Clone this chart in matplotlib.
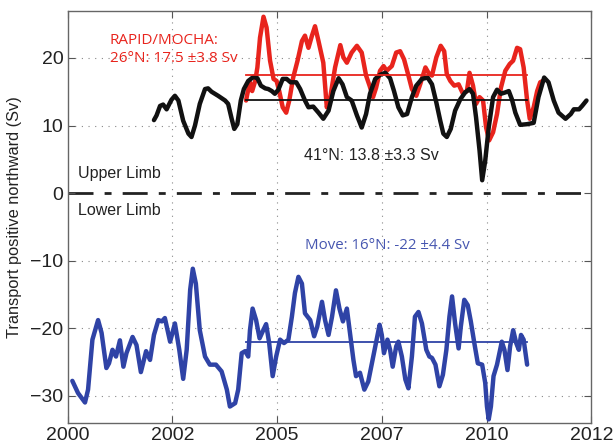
import matplotlib
matplotlib.use("Agg")
import matplotlib.pyplot as plt
import numpy as np

# 16N MOVE (lower limb)
blue_t = [2000.11, 2000.24, 2000.40, 2000.47, 2000.57, 2000.70, 2000.78, 2000.89, 2000.95, 2001.03,
          2001.11, 2001.20, 2001.28, 2001.35, 2001.49, 2001.58, 2001.68, 2001.80, 2001.89, 2001.98,
          2002.08, 2002.16, 2002.23, 2002.35, 2002.46, 2002.56, 2002.65, 2002.73, 2002.81, 2002.87,
          2002.94, 2003.03, 2003.15, 2003.26, 2003.40, 2003.53, 2003.65, 2003.72, 2003.84, 2003.91,
          2003.99, 2004.07, 2004.14, 2004.18, 2004.24, 2004.32, 2004.40, 2004.47, 2004.55, 2004.62,
          2004.70, 2004.78, 2004.87, 2004.96, 2005.06, 2005.14, 2005.21, 2005.29, 2005.37, 2005.44,
          2005.56, 2005.65, 2005.72, 2005.83, 2005.90, 2005.98, 2006.06, 2006.15, 2006.23, 2006.31,
          2006.40, 2006.47, 2006.55, 2006.61, 2006.70, 2006.80, 2006.89, 2006.99, 2007.09, 2007.15,
          2007.20, 2007.25, 2007.33, 2007.39, 2007.45, 2007.53, 2007.58, 2007.66, 2007.74, 2007.81,
          2007.89, 2007.96, 2008.04, 2008.12, 2008.22, 2008.29, 2008.35, 2008.43, 2008.52, 2008.60,
          2008.68, 2008.75, 2008.81, 2008.88, 2008.96, 2009.01, 2009.09, 2009.17, 2009.24, 2009.32,
          2009.40, 2009.50, 2009.57, 2009.61, 2009.65, 2009.70, 2009.76, 2009.84, 2009.95, 2010.01,
          2010.08, 2010.14, 2010.21, 2010.28, 2010.34, 2010.39, 2010.45, 2010.53]
blue_v = [-27.8, -29.6, -31.0, -29.1, -21.7, -18.8, -20.7, -25.9, -25.2, -23.2,
          -24.2, -21.8, -25.7, -23.7, -21.3, -22.5, -26.5, -23.4, -24.7, -21.0,
          -18.8, -19.0, -18.5, -22.0, -19.3, -23.2, -27.5, -23.2, -14.3, -11.2,
          -13.4, -20.3, -24.2, -25.4, -25.4, -26.4, -29.1, -31.6, -31.1, -29.1,
          -23.7, -23.4, -24.2, -20.3, -17.1, -18.8, -21.5, -20.5, -19.4, -22.2,
          -27.1, -24.2, -21.7, -22.2, -21.7, -18.3, -14.8, -12.4, -13.4, -17.8,
          -18.8, -21.2, -19.8, -16.1, -18.8, -21.0, -18.3, -14.4, -17.1, -19.0,
          -17.1, -20.7, -24.7, -27.1, -26.6, -29.1, -27.9, -24.7, -21.5, -19.5,
          -21.0, -23.7, -21.7, -23.2, -25.7, -22.7, -22.0, -24.2, -27.6, -28.9,
          -24.2, -18.3, -17.6, -19.3, -23.2, -24.2, -24.4, -25.4, -28.6, -26.9,
          -23.2, -18.3, -15.3, -19.3, -23.0, -19.8, -15.8, -16.6, -19.0, -22.2,
          -25.2, -25.4, -28.1, -31.6, -33.5, -31.6, -27.1, -25.4, -22.0, -23.2,
          -26.2, -22.7, -20.3, -22.2, -23.2, -21.0, -21.7, -25.4]

# 26N RAPID/MOCHA (upper limb)
red_t = [2004.09, 2004.12, 2004.18, 2004.23, 2004.30, 2004.35, 2004.41, 2004.49, 2004.56, 2004.64,
         2004.72, 2004.79, 2004.85, 2004.93, 2005.01, 2005.08, 2005.17, 2005.27, 2005.37, 2005.44,
         2005.52, 2005.60, 2005.67, 2005.75, 2005.86, 2005.94, 2006.02, 2006.13, 2006.25, 2006.32,
         2006.40, 2006.51, 2006.63, 2006.74, 2006.84, 2006.92, 2007.00, 2007.07, 2007.16, 2007.24,
         2007.31, 2007.43, 2007.53, 2007.62, 2007.71, 2007.81, 2007.89, 2007.99, 2008.08, 2008.20,
         2008.27, 2008.35, 2008.45, 2008.55, 2008.63, 2008.69, 2008.77, 2008.86, 2008.96, 2009.06,
         2009.15, 2009.21, 2009.29, 2009.36, 2009.44, 2009.52, 2009.59, 2009.66, 2009.75, 2009.84,
         2009.93, 2010.03, 2010.13, 2010.21, 2010.30, 2010.37, 2010.45, 2010.53, 2010.59, 2010.68,
         2010.76, 2010.83, 2010.89]
red_v = [13.7, 14.7, 16.4, 15.1, 16.6, 18.6, 23.0, 26.1, 24.5, 19.6,
         16.9, 16.6, 15.1, 12.7, 11.9, 13.7, 17.1, 19.6, 22.5, 23.3,
         21.5, 23.3, 24.7, 22.5, 19.3, 12.7, 14.2, 18.6, 21.9, 20.1,
         19.3, 20.8, 21.8, 20.8, 17.4, 15.9, 14.2, 15.6, 18.1, 18.8,
         18.1, 18.8, 20.8, 21.0, 19.8, 17.4, 15.4, 14.4, 16.1, 18.6,
         17.8, 17.4, 20.1, 21.8, 21.0, 17.6, 16.6, 15.9, 16.1, 14.7,
         15.1, 17.8, 15.9, 13.2, 14.2, 13.7, 9.7, 7.8, 9.0, 11.7,
         15.6, 18.1, 19.1, 19.6, 21.5, 21.3, 18.6, 13.7, 11.0, 12.7,
         15.1, 16.4, 16.6]

# 41N (upper limb)
black_t = [2001.98, 2002.04, 2002.12, 2002.19, 2002.27, 2002.38, 2002.46, 2002.54, 2002.65, 2002.77,
           2002.84, 2002.92, 2003.03, 2003.15, 2003.22, 2003.30, 2003.45, 2003.61, 2003.68, 2003.76,
           2003.82, 2003.89, 2003.97, 2004.04, 2004.14, 2004.26, 2004.35, 2004.43, 2004.53, 2004.60,
           2004.68, 2004.75, 2004.83, 2004.93, 2005.02, 2005.11, 2005.24, 2005.33, 2005.44, 2005.52,
           2005.63, 2005.75, 2005.86, 2005.98, 2006.09, 2006.21, 2006.30, 2006.40, 2006.51, 2006.63,
           2006.74, 2006.84, 2006.93, 2007.05, 2007.16, 2007.28, 2007.39, 2007.48, 2007.58, 2007.68,
           2007.78, 2007.89, 2007.99, 2008.12, 2008.25, 2008.35, 2008.45, 2008.54, 2008.61, 2008.69,
           2008.78, 2008.88, 2009.00, 2009.11, 2009.21, 2009.29, 2009.36, 2009.44, 2009.50, 2009.57,
           2009.65, 2009.75, 2009.84, 2009.93, 2010.03, 2010.11, 2010.18, 2010.26, 2010.37, 2010.53,
           2010.68, 2010.79, 2010.92, 2011.02, 2011.14, 2011.25, 2011.41, 2011.53, 2011.60, 2011.72,
           2011.79, 2011.89]
black_v = [10.8, 11.5, 12.9, 13.1, 12.4, 13.8, 14.4, 13.7, 10.7, 8.8,
           8.3, 10.0, 13.2, 15.4, 15.5, 15.0, 14.4, 13.7, 13.2, 11.0,
           9.5, 10.2, 13.7, 15.4, 16.6, 17.2, 17.0, 15.9, 15.5, 15.4,
           15.1, 14.7, 15.3, 16.9, 16.9, 16.4, 16.4, 15.4, 13.7, 12.7,
           12.8, 11.9, 11.0, 12.2, 15.1, 17.0, 16.1, 14.2, 13.7, 11.5,
           9.7, 11.7, 14.7, 16.9, 17.5, 17.8, 17.0, 15.1, 12.7, 11.5,
           11.7, 14.2, 15.9, 16.9, 17.1, 16.1, 13.4, 10.7, 8.8, 8.3,
           9.5, 12.2, 13.9, 14.9, 15.4, 14.7, 11.2, 6.3, 1.9, 4.8,
           9.7, 14.2, 15.3, 14.7, 14.9, 15.1, 13.9, 11.9, 10.1, 10.2,
           10.4, 14.2, 17.1, 16.4, 13.7, 11.9, 11.0, 11.7, 12.4, 12.4,
           12.9, 13.7]

# means over the common period
mean_span = [2004.09, 2010.52]
red_mean, black_mean, blue_mean = 17.5, 13.8, -22.0

xtick_labels = ["2000", "2002", "2005", "2007", "2010", "2012"]
yticks = [-30, -20, -10, 0, 10, 20]

RED = "#e8241d"
BLUE = "#2f43a6"

fig = plt.figure(figsize=(6.14, 4.45), dpi=100)
ax = fig.add_axes([0.110, 0.050, 0.853, 0.926])

grid_kw = dict(color="#888888", lw=0.8, linestyle=(0, (1, 5)), zorder=0)
for yt in yticks:
    if yt != 0:
        ax.axhline(yt, **grid_kw)
for xt in np.linspace(2000, 2012, 6)[1:-1]:
    ax.axvline(xt, **grid_kw)

ax.axhline(0, color="#222222", lw=2.0, linestyle=(0, (9, 4, 2.5, 4)), zorder=1)

line_kw = dict(lw=3.2, solid_joinstyle="round", solid_capstyle="round")
ax.plot(red_t, red_v, color=RED, zorder=2, **line_kw)
ax.plot(black_t, black_v, color="#111111", zorder=3, **line_kw)
ax.plot(blue_t, blue_v, color=BLUE, zorder=3, **line_kw)

ax.plot(mean_span, [red_mean] * 2, color=RED, lw=1.3, zorder=4)
ax.plot(mean_span, [black_mean] * 2, color="#111111", lw=1.3, zorder=4)
ax.plot(mean_span, [blue_mean] * 2, color=BLUE, lw=1.3, zorder=4)

ax.text(2000.97, 21.3, "RAPID/MOCHA:\n26\u00b0N: 17.5 \u00b13.8 Sv", color=RED, fontsize=11,
        family="Open Sans", va="center", ha="left", linespacing=1.25)
ax.text(2005.41, 5.5, "41\u00b0N: 13.8 \u00b13.3 Sv", color="#222222", fontsize=11.5,
        family="Liberation Sans", va="center", ha="left")
ax.text(2000.25, 2.9, "Upper Limb", color="#222222", fontsize=11.5,
        family="Liberation Sans", va="center", ha="left")
ax.text(2000.25, -2.6, "Lower Limb", color="#222222", fontsize=11.5,
        family="Liberation Sans", va="center", ha="left")
ax.text(2005.43, -7.7, "Move: 16\u00b0N: -22 \u00b14.4 Sv", color="#4656b0", fontsize=10.8,
        family="Open Sans", va="center", ha="left")

ax.set_xlim(2000, 2012)
ax.set_ylim(-34, 27)
ax.set_xticks(np.linspace(2000, 2012, 6))
ax.set_xticklabels(xtick_labels)
ax.set_yticks(yticks)
ax.tick_params(direction="in", length=5, width=0.8, top=True, right=True,
               labelsize=14, colors="#555555", labelcolor="#222222", pad=3)
for lab in ax.get_xticklabels() + ax.get_yticklabels():
    lab.set_family("Liberation Sans")
for s in ax.spines.values():
    s.set_color("#666666")
    s.set_linewidth(1.0)
ax.set_ylabel("Transport positive northward (Sv)", fontsize=11.8, family="Liberation Sans",
              color="#222222", labelpad=6)

fig.savefig("out.png", dpi=100)
